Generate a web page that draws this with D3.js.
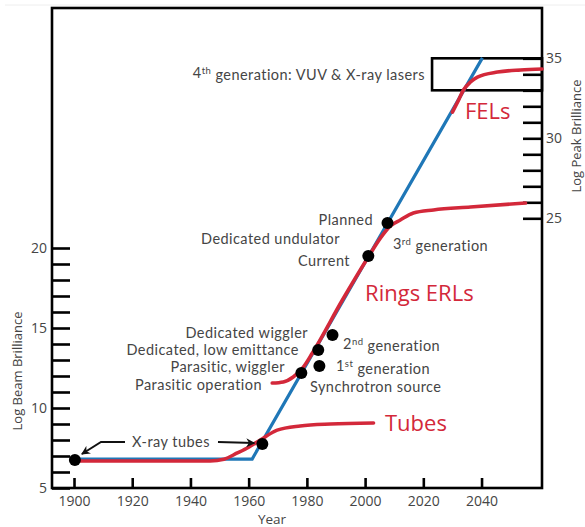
<!DOCTYPE html>
<html>
<head>
<meta charset="utf-8">
<script src="https://cdn.jsdelivr.net/npm/d3@7"></script>
<style>
  html, body { margin: 0; padding: 0; background: #fff; }
  svg { display: block; font-family: "Open Sans", "Noto Sans", sans-serif; }
</style>
</head>
<body>
<svg id="chart" width="585" height="527"></svg>
<script>
// ---------------- data ----------------
const yearTicks = [1900, 1920, 1940, 1960, 1980, 2000, 2020, 2040];
const beamTicks = [6, 7, 8, 9, 10, 11, 12, 13, 14, 15, 16, 17, 18, 19, 20];
const beamTickLabels = [5, 10, 15, 20];
const peakTicks = [25, 26, 27, 28, 29, 30, 31, 32, 33, 34, 35];
const peakTickLabels = [25, 30, 35];

// blue trend line (year, log beam brilliance)
const trendLine = [[1900, 6.81], [1961.2, 6.81], [2040.3, 31.88]];

// red curves (year, log beam brilliance)
const tubesCurve = [[1900, 6.69], [1946.8, 6.69], [1951.5, 6.8], [1956.1, 7.19], [1960, 7.55], [1964.0, 8.0],
  [1969.8, 8.62], [1977.7, 8.88], [1988.1, 9.0], [2002.9, 9.06]];
const ringsCurve = [[1968.1, 11.56], [1971.9, 11.63], [1975.3, 11.94], [1978.8, 12.56], [1981.9, 13.44],
  [1992.2, 16.75], [2001.1, 19.44], [2005.3, 20.63], [2008.7, 21.38], [2012.1, 21.75], [2016.6, 22.19],
  [2023.5, 22.38], [2036.2, 22.56], [2055.1, 22.81]];
// FEL curve (year, log peak brilliance)
const felCurve = [[2030.0, 31.64], [2032.1, 32.39], [2033.8, 33.02], [2036.2, 33.52], [2038.6, 33.83],
  [2045.5, 34.14], [2053.4, 34.27], [2060.8, 34.33]];

// milestones (year, log beam brilliance)
const milestones = [[1900.3, 6.75], [1964.7, 7.75], [1978.1, 12.19], [1984.3, 12.63], [1983.9, 13.63],
  [1988.8, 14.56], [2001.1, 19.5], [2007.7, 21.56]];

// 4th generation box (year range, log peak brilliance range)
const fourthGenBox = { years: [2023.0, 2060.77], peak: [33, 35] };

// text annotations: [text, sup, rest, year, beam value, anchor]
const notes = [
  ["4", "th", " generation: VUV & X-ray lasers", 2020.57, 30.94, "end"],
  ["Planned", "", "", 2002.71, 21.75, "end"],
  ["Dedicated undulator", "", "", 1991.38, 20.56, "end"],
  ["Current", "", "", 1994.81, 19.19, "end"],
  ["3", "rd", " generation", 2009.58, 20.25, "start"],
  ["Dedicated wiggler", "", "", 1980.38, 14.72, "end"],
  ["2", "nd", " generation", 1992.41, 14.0, "start"],
  ["Dedicated, low emittance", "", "", 1977.29, 13.63, "end"],
  ["Parasitic, wiggler", "", "", 1972.48, 12.56, "end"],
  ["1", "st", " generation", 1990.0, 12.6, "start"],
  ["Parasitic operation", "", "", 1964.58, 11.47, "end"],
  ["Synchrotron source", "", "", 1981.07, 11.31, "start"],
  ["X-ray tubes", "", "", 1933.32, 7.875, "middle"]
];
const redNotes = [["FELs", 2034.31, 28.56], ["Rings ERLs", 2000.0, 17.19], ["Tubes", 2006.83, 9.06]];

// ---------------- chart ----------------
(function () {
const svg = d3.select("#chart");
const pL = 52, pR = 542, pT = 8, pB = 488;
const x = d3.scaleLinear().domain([1892.44, 2060.77]).range([pL, pR]);
const yL = d3.scaleLinear().domain([5, 35]).range([pB, pT]);
const yR = d3.scaleLinear().domain([8.144, 38.144]).range([pB, pT]);

const BLUE = "#1f77b7", RED = "#d3283a", TXT = "#454545";

svg.append("defs").append("marker")
  .attr("id", "arrow").attr("viewBox", "0 0 10 10").attr("refX", 9).attr("refY", 5)
  .attr("markerWidth", 9).attr("markerHeight", 9).attr("orient", "auto-start-reverse")
  .attr("markerUnits", "userSpaceOnUse")
  .append("path").attr("d", "M0,0 L10,5 L0,10 L3,5 Z").attr("fill", "#111");

// faint top rule
svg.append("line").attr("x1", 5).attr("x2", 585).attr("y1", 5).attr("y2", 5)
  .attr("stroke", "#eee").attr("stroke-width", 1);

// axes
const axB = svg.append("g").attr("transform", `translate(0,${pB})`)
  .call(d3.axisBottom(x).tickValues(yearTicks).tickSize(-10).tickPadding(8).tickFormat(d3.format("d")));
const axL = svg.append("g").attr("transform", `translate(${pL},0)`)
  .call(d3.axisLeft(yL).tickValues([5].concat(beamTicks)).tickSize(-18).tickPadding(5)
    .tickFormat(d => beamTickLabels.includes(d) ? d : ""));
const axR = svg.append("g").attr("transform", `translate(${pR},0)`)
  .call(d3.axisRight(yR).tickValues(peakTicks).tickSize(-19).tickPadding(4)
    .tickFormat(d => peakTickLabels.includes(d) ? d : ""));
[axB, axL, axR].forEach(g => {
  g.select(".domain").remove();
  g.selectAll(".tick line").attr("stroke", "#000").attr("stroke-width", 2.6);
  g.selectAll(".tick text").attr("fill", TXT).style("font-size", "14px")
    .style("font-family", '"Open Sans", sans-serif');
});

// frame
svg.append("rect").attr("x", pL).attr("y", pT).attr("width", pR - pL).attr("height", pB - pT)
  .attr("fill", "none").attr("stroke", "#000").attr("stroke-width", 2.6);

// 4th generation box
svg.append("rect")
  .attr("x", x(fourthGenBox.years[0])).attr("y", yR(fourthGenBox.peak[1]))
  .attr("width", x(fourthGenBox.years[1]) - x(fourthGenBox.years[0]))
  .attr("height", yR(fourthGenBox.peak[0]) - yR(fourthGenBox.peak[1]))
  .attr("fill", "none").attr("stroke", "#000").attr("stroke-width", 2.6);

// axis titles
svg.append("text").attr("transform", `translate(17,371) rotate(-90)`)
  .attr("text-anchor", "middle").attr("dy", "0.35em").attr("fill", TXT).style("font-size", "13px")
  .text("Log Beam Brilliance");
svg.append("text").attr("transform", `translate(581,136) rotate(-90)`)
  .attr("text-anchor", "middle").attr("fill", TXT).style("font-size", "13px")
  .text("Log Peak Brilliance");
svg.append("text").attr("x", 272).attr("y", 519).attr("text-anchor", "middle").attr("dy", "0.35em")
  .attr("fill", TXT).style("font-size", "13.5px").text("Year");

// lines
const lineL = d3.line().x(d => x(d[0])).y(d => yL(d[1]));
const curveL = d3.line().curve(d3.curveMonotoneX).x(d => x(d[0])).y(d => yL(d[1]));
const curveR = d3.line().curve(d3.curveMonotoneX).x(d => x(d[0])).y(d => yR(d[1]));

svg.append("path").attr("d", lineL(trendLine)).attr("fill", "none")
  .attr("stroke", BLUE).attr("stroke-width", 3.2).attr("stroke-linejoin", "miter");
[tubesCurve, ringsCurve].forEach(c => {
  svg.append("path").attr("d", curveL(c)).attr("fill", "none")
    .attr("stroke", RED).attr("stroke-width", 3.6).attr("stroke-linecap", "round");
});
svg.append("path").attr("d", curveR(felCurve)).attr("fill", "none")
  .attr("stroke", RED).attr("stroke-width", 3.6).attr("stroke-linecap", "round");

// milestones
svg.append("g").selectAll("circle").data(milestones).join("circle")
  .attr("cx", d => x(d[0])).attr("cy", d => yL(d[1])).attr("r", 6).attr("fill", "#000");

// text notes
const ng = svg.append("g").attr("fill", TXT).style("font-family", "Lato, 'Open Sans', sans-serif")
  .style("font-size", "14.5px").style("letter-spacing", "0.45px");
notes.forEach(n => {
  const t = ng.append("text").attr("x", x(n[3])).attr("y", yL(n[4])).attr("dy", "0.35em")
    .attr("text-anchor", n[5]);
  t.append("tspan").text(n[0]);
  if (n[1]) {
    t.append("tspan").attr("dy", "-0.45em").style("font-size", "9.5px").text(n[1]);
    t.append("tspan").attr("dy", "0.45em").text(n[2]);
  }
});
const rg = svg.append("g").attr("fill", RED).style("font-size", "22px");
redNotes.forEach(n => {
  rg.append("text").attr("x", x(n[1])).attr("y", yL(n[2])).attr("dy", "0.35em").text(n[0]);
});

// arrows for X-ray tubes
const lbl = notes.find(n => n[0] === "X-ray tubes");
const lx = x(lbl[3]), ly = yL(lbl[4]);
const m0 = milestones[0], m1 = milestones[1];
svg.append("path")
  .attr("d", `M${lx - 46},${ly} L${lx - 70},${ly} L${x(m0[0]) + 7},${yL(m0[1]) - 6}`)
  .attr("fill", "none").attr("stroke", "#111").attr("stroke-width", 2).attr("marker-end", "url(#arrow)");
svg.append("path")
  .attr("d", `M${lx + 47},${ly} L${x(m1[0]) - 8},${ly + 1}`)
  .attr("fill", "none").attr("stroke", "#111").attr("stroke-width", 2).attr("marker-end", "url(#arrow)");
})();
</script>
</body>
</html>
